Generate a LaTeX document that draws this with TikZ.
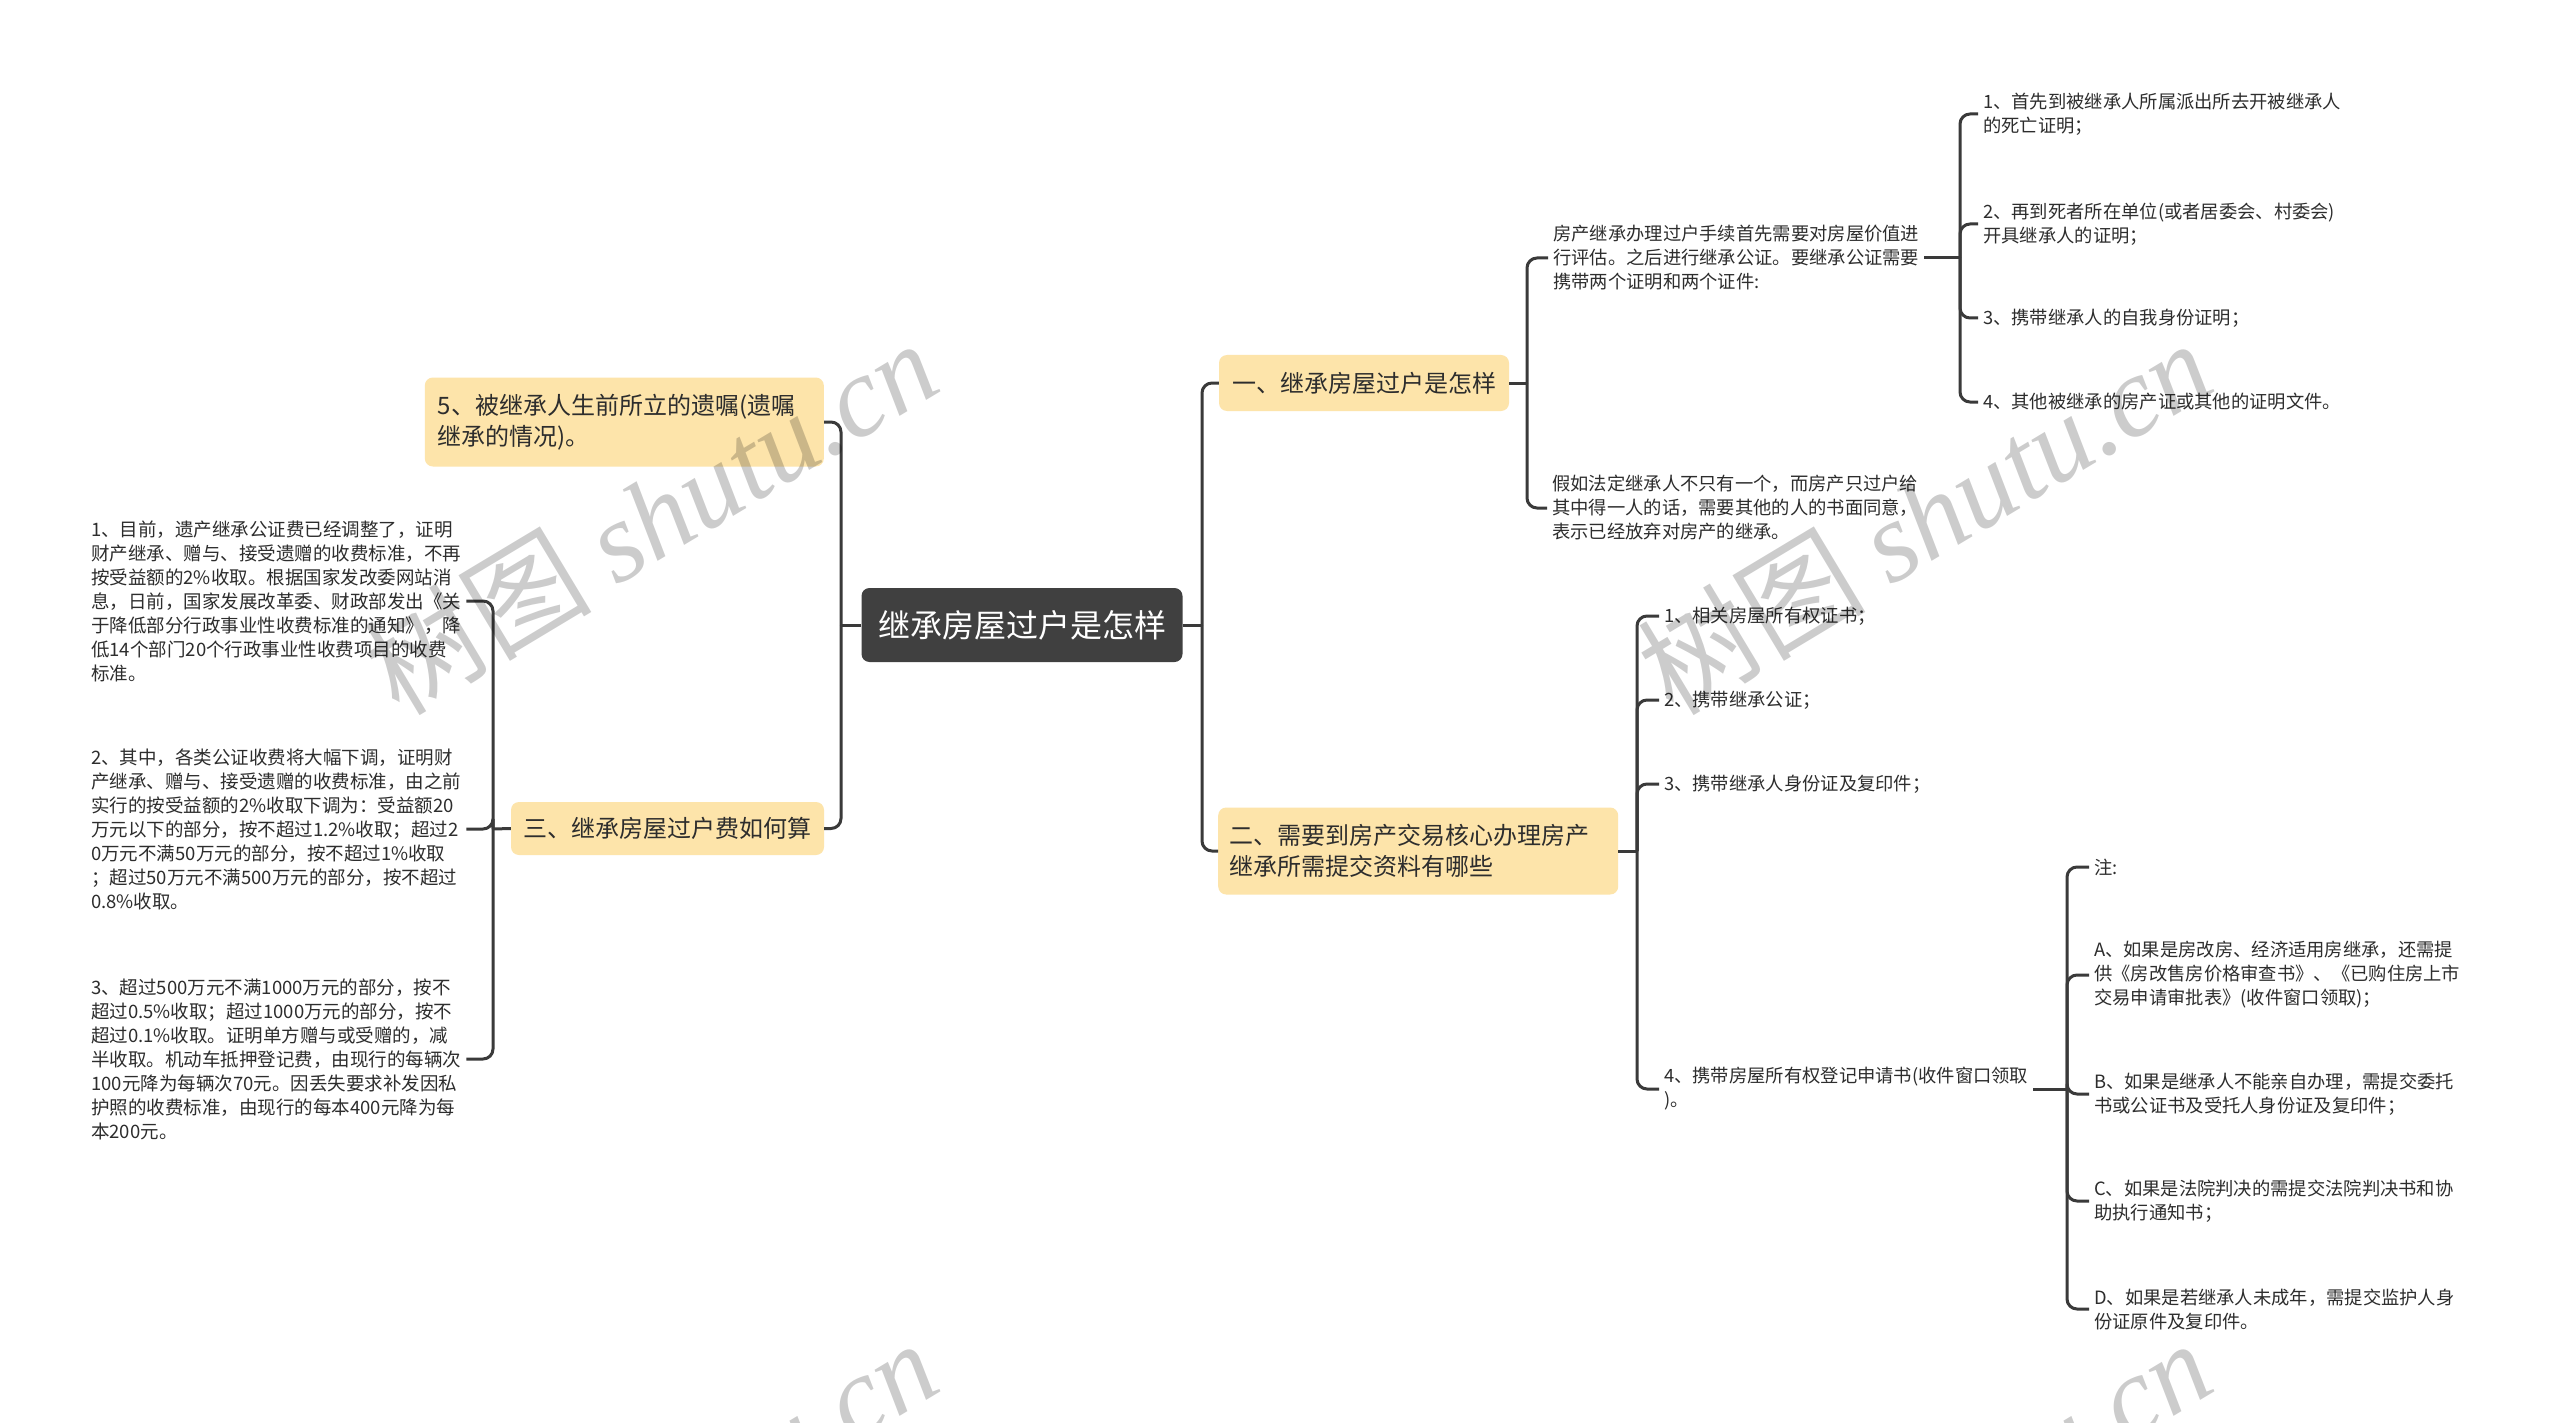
\documentclass[tikz,border=0pt]{standalone}
\usepackage{fontspec}
\setmainfont{Noto Sans CJK SC}
\newfontfamily\wmfont{Liberation Serif}
\definecolor{rootgray}{RGB}{64,64,64}
\definecolor{topicyellow}{RGB}{253,228,170}
\definecolor{linegray}{RGB}{58,58,58}
\definecolor{inkgray}{RGB}{45,45,45}
\usetikzlibrary{calc}

\begin{document}
\begin{tikzpicture}[x=1pt, y=-1pt,
  rootbox/.style={fill=rootgray, rounded corners=8pt, text=white,
    font=\fontsize{32}{38}\selectfont, minimum width=321pt, minimum height=74pt},
  topic/.style={fill=topicyellow, rounded corners=8pt, text=inkgray,
    font=\fontsize{24}{31}\selectfont, align=left, inner xsep=12pt},
  leaf/.style={inner sep=5pt, align=left, text=inkgray, anchor=west,
    font=\fontsize{18.3}{24}\selectfont},
  fee/.style={leaf, font=\fontsize{18.5}{24}\selectfont},
  conn/.style={draw=linegray, line width=3pt, rounded corners=10pt},
  wm/.style={text=black, opacity=0.2, rotate=31,
    font=\fontsize{114}{114}\selectfont},
]
\useasboundingbox (0,0) rectangle (2560,1423);
\fill[white] (0,0) rectangle (2560,1423);
\clip (0,0) rectangle (2560,1423);

% Central topic
\node[rootbox] (root) at (1022,625) {继承房屋过户是怎样};

% Main branches
\node[topic, minimum width=290pt, minimum height=56pt] (t1) at (1364,383)
  {一、继承房屋过户是怎样};
\node[topic, anchor=west, text width=378pt, inner xsep=11pt, minimum height=87pt]
  (t2) at (1218,851)
  {二、需要到房产交易核心办理房产\\继承所需提交资料有哪些};
\node[topic, anchor=east, text width=373pt, inner xsep=13pt, minimum height=89pt]
  (t5) at (824,422)
  {5、被继承人生前所立的遗嘱(遗嘱\\继承的情况)。};
\node[topic, minimum width=313pt, minimum height=53pt] (t3) at (667.5,828.5)
  {三、继承房屋过户费如何算};

% Branch one
\node[leaf] (a1) at (1548,258)
  {房产继承办理过户手续首先需要对房屋价值进\\行评估。之后进行继承公证。要继承公证需要\\携带两个证明和两个证件:};
\node[leaf] (a2) at (1547,508)
  {假如法定继承人不只有一个，而房产只过户给\\其中得一人的话，需要其他的人的书面同意，\\表示已经放弃对房产的继承。};
\node[leaf] (a11) at (1978,114) {1、首先到被继承人所属派出所去开被继承人\\的死亡证明；};
\node[leaf] (a12) at (1978,224) {2、再到死者所在单位(或者居委会、村委会)\\开具继承人的证明；};
\node[leaf] (a13) at (1978,318) {3、携带继承人的自我身份证明；};
\node[leaf] (a14) at (1978,402) {4、其他被继承的房产证或其他的证明文件。};

% Branch two
\node[leaf] (b1) at (1659,616) {1、相关房屋所有权证书；};
\node[leaf] (b2) at (1659,700) {2、携带继承公证；};
\node[leaf] (b3) at (1659,784) {3、携带继承人身份证及复印件；};
\node[leaf] (b4) at (1659,1089) {4、携带房屋所有权登记申请书(收件窗口领取\\)。};
\node[leaf] (n0) at (2089,867) {注:};
\node[leaf] (nA) at (2089,975)
  {A、如果是房改房、经济适用房继承，还需提\\供《房改售房价格审查书》、《已购住房上市\\交易申请审批表》(收件窗口领取)；};
\node[leaf] (nB) at (2089,1094) {B、如果是继承人不能亲自办理，需提交委托\\书或公证书及受托人身份证及复印件；};
\node[leaf] (nC) at (2089,1201) {C、如果是法院判决的需提交法院判决书和协\\助执行通知书；};
\node[leaf] (nD) at (2089,1309) {D、如果是若继承人未成年，需提交监护人身\\份证原件及复印件。};

% Branch three
\node[fee] (f1) at (86,601)
  {1、目前，遗产继承公证费已经调整了，证明\\财产继承、赠与、接受遗赠的收费标准，不再\\按受益额的2\%收取。根据国家发改委网站消\\息，日前，国家发展改革委、财政部发出《关\\于降低部分行政事业性收费标准的通知》，降\\低14个部门20个行政事业性收费项目的收费\\标准。};
\node[fee] (f2) at (86,829)
  {2、其中，各类公证收费将大幅下调，证明财\\产继承、赠与、接受遗赠的收费标准，由之前\\实行的按受益额的2\%收取下调为：受益额20\\万元以下的部分，按不超过1.2\%收取；超过2\\0万元不满50万元的部分，按不超过1\%收取\\；超过50万元不满500万元的部分，按不超过\\0.8\%收取。};
\node[fee] (f3) at (86,1059)
  {3、超过500万元不满1000万元的部分，按不\\超过0.5\%收取；超过1000万元的部分，按不\\超过0.1\%收取。证明单方赠与或受赠的，减\\半收取。机动车抵押登记费，由现行的每辆次\\100元降为每辆次70元。因丢失要求补发因私\\护照的收费标准，由现行的每本400元降为每\\本200元。};

% Junctions
\coordinate (jR) at (1202,625);
\coordinate (jL) at (841,625);
\coordinate (j1) at (1527,383);
\coordinate (j11) at (1960,258);
\coordinate (j2) at (1637,851);
\coordinate (j24) at (2067,1089);
\coordinate (j3) at (493,829);

% Connectors
\draw[conn] (root.east) -- (jR);
\draw[conn] (root.west) -- (jL);
\foreach \c in {t1,t2} \draw[conn] (jR) |- (\c.west);
\foreach \c in {t5,t3} \draw[conn] (jL) |- (\c.east);
\draw[conn] (t1.east) -- (j1);
\foreach \c in {a1,a2} \draw[conn] (j1) |- (\c.west);
\draw[conn] (a1.east) -- (j11);
\foreach \c in {a11,a12,a13,a14} \draw[conn] (j11) |- (\c.west);
\draw[conn] (t2.east) -- (j2);
\foreach \c in {b1,b2,b3,b4} \draw[conn] (j2) |- (\c.west);
\draw[conn] (b4.east) -- (j24);
\foreach \c in {n0,nA,nB,nC,nD} \draw[conn] (j24) |- (\c.west);
\draw[conn] (t3.west) -- (j3);
\foreach \c in {f1,f2,f3} \draw[conn] (j3) |- (\c.east);

% Watermarks
\foreach \wx/\wy [count=\i] in {650/516, 1924/516, 650/1516, 1924/1516}
  \node[wm] (wm\i) at (\wx,\wy) {树图 {\wmfont\itshape shutu.cn}};
\end{tikzpicture}
\end{document}
